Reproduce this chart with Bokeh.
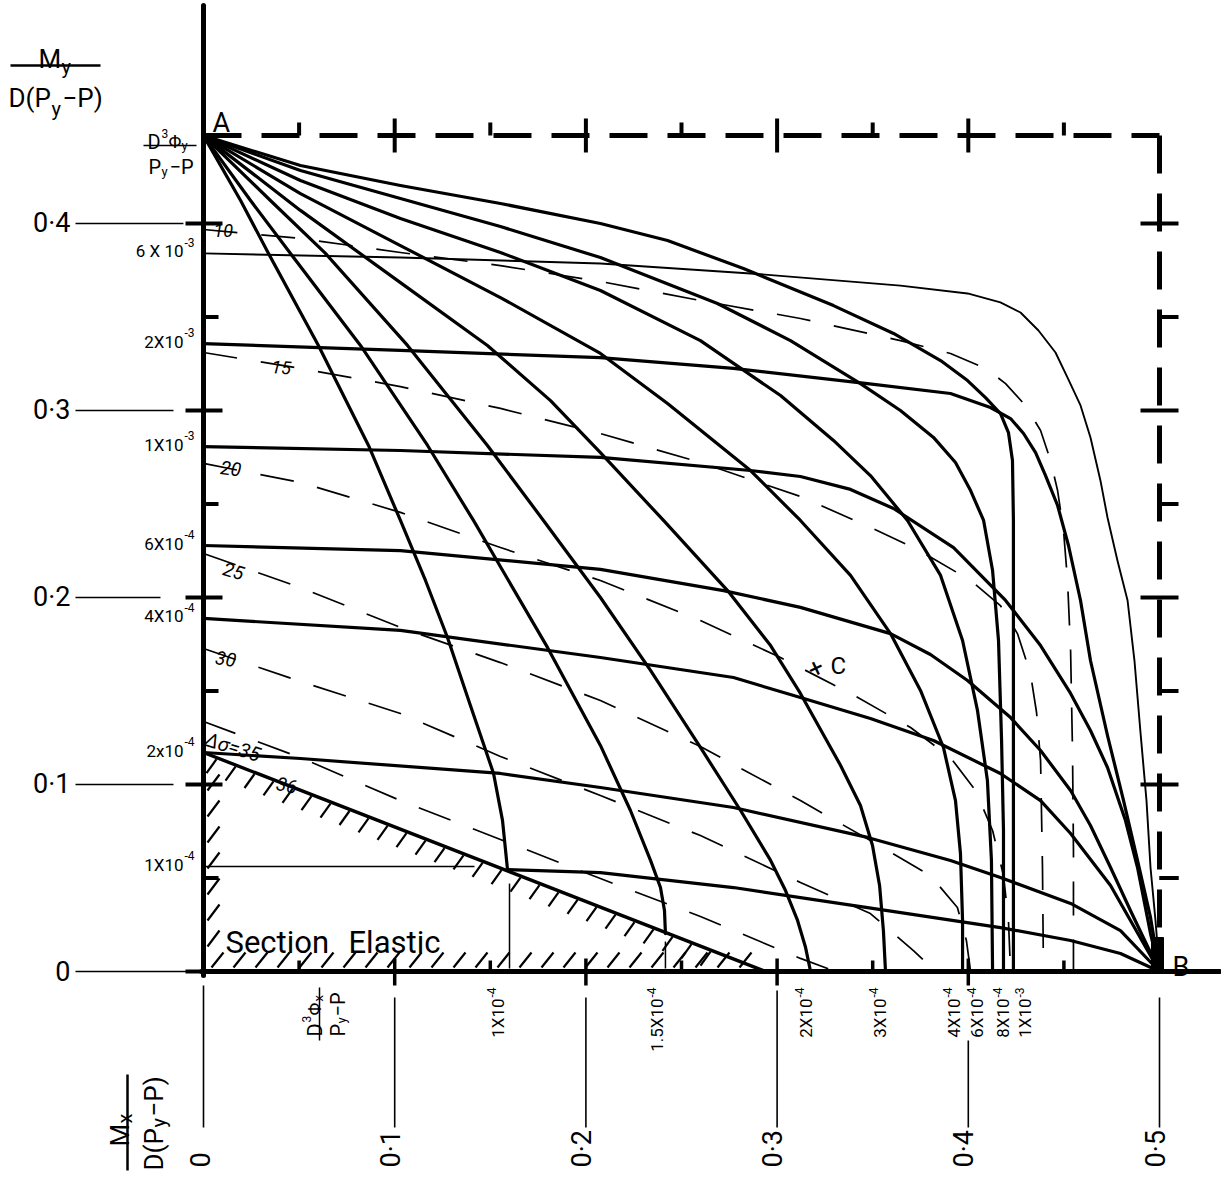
import math
from bokeh.plotting import figure
from bokeh.models import Range1d
from bokeh.core.properties import value
from bokeh.embed import file_html
from bokeh.resources import INLINE

# ------------------------------------------------------------------
# Values  (x = Mx/D(Py-P),  y = My/D(Py-P))
# ------------------------------------------------------------------
x_ticks = [0.0, 0.1, 0.2, 0.3, 0.4, 0.5]
x_tick_labels = ["0", "0·1", "0·2", "0·3", "0·4", "0·5"]
y_ticks = [0.0, 0.1, 0.2, 0.3, 0.4]
y_tick_labels = ["0", "0·1", "0·2", "0·3", "0·4"]
y_leader_end = [-0.0031, -0.0157, -0.0225, -0.0157, -0.0105]
minor_x = [0.05, 0.15, 0.25, 0.35, 0.45]
minor_y = [0.05, 0.15, 0.25, 0.35]
border_major = [0.1, 0.2, 0.3, 0.4]
border_minor = [0.05, 0.15, 0.25, 0.35, 0.45]

top_y = 0.447          # D^3 Phi_y / (Py - P)  (point A)
right_x = 0.5          # point B

# ---- curves of constant D^3 Phi_x/(Py-P): from A down to the Mx axis
phx_1e4_x = [0, 0.0194, 0.034, 0.0601, 0.0863, 0.103, 0.1161, 0.1276, 0.1396, 0.1517, 0.1564, 0.159]
phx_1e4_y = [0.447, 0.4123, 0.384, 0.3348, 0.2813, 0.2412, 0.2091, 0.1786, 0.1422, 0.1059, 0.0807, 0.0545]
phx_15e4_x = [0, 0.0246, 0.0455, 0.0821, 0.1172, 0.1412, 0.1799, 0.2076, 0.2233, 0.2338, 0.239, 0.2411, 0.2416]
phx_15e4_y = [0.447, 0.4123, 0.384, 0.3348, 0.2813, 0.2412, 0.1733, 0.1209, 0.0861, 0.0594, 0.0449, 0.0326, 0.0203]
phx_2e4_x = [0, 0.035, 0.0638, 0.1067, 0.1485, 0.1778, 0.2076, 0.2338, 0.2599, 0.2809, 0.2966, 0.3044, 0.3107, 0.3149, 0.3175]
phx_2e4_y = [0.447, 0.4123, 0.384, 0.3348, 0.2813, 0.2412, 0.2, 0.161, 0.1198, 0.0861, 0.0594, 0.0433, 0.0273, 0.0128, 0.0]
phx_3e4_x = [0, 0.0507, 0.103, 0.1485, 0.1815, 0.2076, 0.2406, 0.2741, 0.2966, 0.3122, 0.3332, 0.3436, 0.3499, 0.3536, 0.3556, 0.3567]
phx_3e4_y = [0.447, 0.407, 0.3684, 0.3348, 0.3053, 0.2775, 0.2412, 0.2037, 0.1743, 0.1487, 0.1102, 0.0888, 0.0674, 0.046, 0.0219, 0.0]
phx_4e4_x = [0, 0.0507, 0.103, 0.1553, 0.2076, 0.2427, 0.2861, 0.3122, 0.3384, 0.3593, 0.375, 0.387, 0.3933, 0.3959, 0.397, 0.397]
phx_4e4_y = [0.447, 0.416, 0.3882, 0.3604, 0.3305, 0.3037, 0.2679, 0.2412, 0.2118, 0.1807, 0.1503, 0.1198, 0.0914, 0.0631, 0.0273, 0.0]
phx_6e4_x = [0, 0.0507, 0.103, 0.1553, 0.2076, 0.2599, 0.3018, 0.3295, 0.3488, 0.3682, 0.3855, 0.397, 0.4048, 0.41, 0.4121, 0.4127]
phx_6e4_y = [0.447, 0.423, 0.4027, 0.3845, 0.3642, 0.3374, 0.308, 0.284, 0.2652, 0.2412, 0.2118, 0.177, 0.1396, 0.1021, 0.0594, 0.0]
phx_8e4_x = [0, 0.0507, 0.103, 0.1553, 0.2076, 0.2688, 0.307, 0.3436, 0.3645, 0.3818, 0.3933, 0.4012, 0.408, 0.4127, 0.4158, 0.4174, 0.4184, 0.4184]
phx_8e4_y = [0.447, 0.4283, 0.4134, 0.3984, 0.3818, 0.3572, 0.3374, 0.3144, 0.3, 0.2856, 0.2722, 0.2572, 0.2412, 0.2144, 0.177, 0.1235, 0.0754, 0.0]
phx_1e3_x = [0, 0.0507, 0.103, 0.1553, 0.2076, 0.2427, 0.2824, 0.3295, 0.3609, 0.3855, 0.3996, 0.409, 0.4168, 0.421, 0.4231, 0.4236, 0.4236]
phx_1e3_y = [0.447, 0.431, 0.4203, 0.4107, 0.4, 0.3909, 0.3759, 0.3561, 0.3412, 0.3267, 0.316, 0.3069, 0.2984, 0.2882, 0.2733, 0.2412, 0.0]
phx_mant = ["1X10", "1.5X10", "2X10", "3X10", "4X10", "6X10", "8X10", "1X10"]
phx_exp = ["-4", "-4", "-4", "-4", "-4", "-4", "-4", "-3"]
phx_label_x = [0.1538, 0.2374, 0.3149, 0.3536, 0.3923, 0.4048, 0.4184, 0.4299]

# ---- curves of constant D^3 Phi_y/(Py-P): from the My axis to B
phy_6e3_x = [0, 0.103, 0.2076, 0.2861, 0.3645, 0.3996, 0.4168, 0.4273, 0.4367, 0.4456, 0.4519, 0.4587, 0.4639, 0.4691, 0.4728, 0.478, 0.4833, 0.4869, 0.4901, 0.4932, 0.4953, 0.4979, 0.5]
phy_6e3_y = [0.384, 0.3818, 0.3786, 0.3733, 0.3668, 0.3626, 0.3578, 0.3524, 0.3428, 0.331, 0.3176, 0.3027, 0.2856, 0.2626, 0.2428, 0.2198, 0.1984, 0.1663, 0.1273, 0.0914, 0.0556, 0.0273, 0.0]
phy_2e3_x = [0, 0.103, 0.2076, 0.2772, 0.3473, 0.3907, 0.4116, 0.4221, 0.4289, 0.4352, 0.4404, 0.4467, 0.4524, 0.4587, 0.4639, 0.4728, 0.4812, 0.4885, 0.4953, 0.5]
phy_2e3_y = [0.3358, 0.3321, 0.3283, 0.3225, 0.3144, 0.3091, 0.3016, 0.2957, 0.2877, 0.2775, 0.2652, 0.2492, 0.2278, 0.1984, 0.1663, 0.1262, 0.0914, 0.0594, 0.0289, 0.0]
phy_1e3_x = [0, 0.103, 0.2076, 0.2861, 0.3122, 0.3384, 0.3609, 0.3923, 0.4195, 0.4378, 0.4535, 0.4639, 0.4728, 0.4822, 0.4885, 0.4953, 0.5]
phy_1e3_y = [0.2807, 0.2786, 0.2749, 0.2679, 0.2647, 0.2578, 0.2476, 0.2267, 0.1984, 0.1743, 0.1487, 0.1289, 0.1091, 0.0807, 0.0556, 0.0203, 0.0]
phy_6e4_x = [0, 0.103, 0.2076, 0.272, 0.3122, 0.3593, 0.3802, 0.3996, 0.4221, 0.4378, 0.4535, 0.4639, 0.4744, 0.4848, 0.5]
phy_6e4_y = [0.2278, 0.2251, 0.215, 0.2037, 0.1947, 0.1807, 0.1695, 0.1556, 0.1358, 0.1182, 0.0968, 0.0781, 0.0556, 0.0326, 0.0]
phy_4e4_x = [0, 0.103, 0.2076, 0.2772, 0.3122, 0.3488, 0.3818, 0.4168, 0.4378, 0.4535, 0.4744, 0.5]
phy_4e4_y = [0.1888, 0.1824, 0.1679, 0.1572, 0.1465, 0.1353, 0.1235, 0.1059, 0.0914, 0.0738, 0.046, 0.0]
phy_2e4_x = [0, 0.0507, 0.1553, 0.2076, 0.2772, 0.3473, 0.3907, 0.4168, 0.4535, 0.4796, 0.5]
phy_2e4_y = [0.1171, 0.1139, 0.1059, 0.0984, 0.0877, 0.0717, 0.0594, 0.0503, 0.0364, 0.0219, 0.0]
phy_1e4_x = [0.159, 0.2076, 0.2772, 0.3473, 0.4168, 0.4535, 0.4796, 0.5]
phy_1e4_y = [0.0545, 0.0529, 0.0449, 0.0342, 0.0235, 0.0166, 0.0096, 0.0]
phy_mant = ["6 X 10", "2X10", "1X10", "6X10", "4X10", "2x10", "1X10"]
phy_exp = ["-3", "-3", "-3", "-4", "-4", "-4", "-4"]
phy_label_y = [0.384, 0.3358, 0.2807, 0.2278, 0.1888, 0.1171, 0.0561]

# ---- stress contours  delta sigma  (dashed)
ds10_x = [0, 0.0507, 0.103, 0.1553, 0.2076, 0.2599, 0.3122, 0.3645, 0.3907, 0.409, 0.4195, 0.4299, 0.4378, 0.443, 0.4467, 0.4498, 0.4519, 0.4535, 0.4545, 0.455, 0.455]
ds10_y = [0.3968, 0.392, 0.3845, 0.3775, 0.369, 0.3588, 0.3492, 0.3374, 0.3305, 0.3225, 0.3144, 0.3027, 0.2893, 0.2733, 0.2572, 0.2358, 0.2091, 0.1717, 0.1182, 0.0647, 0.0]
ds15_x = [0, 0.0507, 0.103, 0.1553, 0.2076, 0.2599, 0.3122, 0.3478, 0.3745, 0.4012, 0.4168, 0.4257, 0.4325, 0.4357, 0.4378, 0.4388, 0.4393]
ds15_y = [0.331, 0.3225, 0.3128, 0.3011, 0.2877, 0.2722, 0.254, 0.238, 0.2251, 0.2091, 0.1957, 0.1807, 0.1594, 0.1385, 0.1128, 0.0556, 0.0]
ds20_x = [0, 0.0507, 0.103, 0.1553, 0.2076, 0.2599, 0.3018, 0.3384, 0.3698, 0.3907, 0.4038, 0.4127, 0.4184, 0.421, 0.4221]
ds20_y = [0.2717, 0.2615, 0.2455, 0.2267, 0.2091, 0.1877, 0.1679, 0.1487, 0.1305, 0.1144, 0.0968, 0.0754, 0.0513, 0.0273, 0.0]
ds25_x = [0, 0.0507, 0.103, 0.1553, 0.2076, 0.2599, 0.3122, 0.3488, 0.3802, 0.3943, 0.399, 0.4012]
ds25_y = [0.2235, 0.2053, 0.184, 0.1652, 0.1449, 0.1203, 0.0914, 0.07, 0.0513, 0.0342, 0.0166, 0.0]
ds30_x = [0, 0.0507, 0.103, 0.1553, 0.2076, 0.2599, 0.3122, 0.3488, 0.3713, 0.3828]
ds30_y = [0.1727, 0.1551, 0.138, 0.115, 0.0941, 0.0727, 0.0476, 0.031, 0.0112, 0.0]
ds35_x = [0, 0.0507, 0.103, 0.1553, 0.2076, 0.2599, 0.3122, 0.3305]
ds35_y = [0.1337, 0.1144, 0.0914, 0.0706, 0.0497, 0.0294, 0.007, 0.0]
elastic_x = [0.0, 0.294]          # delta sigma = 36, limit of elastic section
elastic_y = [0.1171, 0.0]

# ------------------------------------------------------------------
# Figure: frame pixels per chart unit
# ------------------------------------------------------------------
SX, SY = 1912.0, 1870.0
W, H = 1221, 1172
OX, OY = 203.0, 971.0          # origin inside the frame, pixels


def ox(n):
    return n / SX


def oy(n):
    return n / SY


def RX(px):                      # picture pixel -> chart units
    return (px - OX) / SX


def RY(py):
    return (OY - py) / SY


p = figure(width=W, height=H,
           x_range=Range1d(-OX / SX, (W - OX) / SX),
           y_range=Range1d(-(H - OY) / SY, OY / SY),
           x_axis_type=None, y_axis_type=None,
           x_axis_location=None, y_axis_location=None,
           output_backend="svg", toolbar_location=None,
           min_border=0, outline_line_color=None,
           background_fill_color="white", border_fill_color="white")

INK = "black"
FONT = value("Roboto")


def curve(xs, ys, w, dash="solid"):
    cap = "round" if dash == "solid" else "butt"
    p.line(xs, ys, line_color=INK, line_width=w, line_dash=dash,
           line_join="round", line_cap=cap)


def segs(x0, y0, x1, y1, w):
    p.segment(x0=x0, y0=y0, x1=x1, y1=y1, line_color=INK, line_width=w, line_cap="butt")


def put(s, xv, yv, size, align="left", base="alphabetic", angle=0.0, style="normal"):
    p.text(x=[xv], y=[yv], text=[s], text_font=FONT, text_font_size=f"{size}px",
           text_align=align, text_baseline=base, angle=angle,
           text_font_style=style, text_color=INK)


# ---- stress contours (dashed, thin)
for xs, ys in [(ds10_x, ds10_y), (ds15_x, ds15_y), (ds20_x, ds20_y),
               (ds25_x, ds25_y), (ds30_x, ds30_y), (ds35_x, ds35_y)]:
    curve(xs, ys, 1.7, "34 24")

# ---- Phi_y family
curve(phy_6e3_x, phy_6e3_y, 1.9)
for xs, ys in [(phy_2e3_x, phy_2e3_y), (phy_1e3_x, phy_1e3_y), (phy_6e4_x, phy_6e4_y),
               (phy_4e4_x, phy_4e4_y), (phy_2e4_x, phy_2e4_y), (phy_1e4_x, phy_1e4_y)]:
    curve(xs, ys, 3.2)

# ---- Phi_x family
for xs, ys in [(phx_1e4_x, phx_1e4_y), (phx_15e4_x, phx_15e4_y), (phx_2e4_x, phx_2e4_y),
               (phx_3e4_x, phx_3e4_y), (phx_4e4_x, phx_4e4_y), (phx_6e4_x, phx_6e4_y),
               (phx_8e4_x, phx_8e4_y), (phx_1e3_x, phx_1e3_y)]:
    curve(xs, ys, 3.2)

# thin drop lines from the first two Phi_x curve ends to the axis
segs([phx_1e4_x[-1] + ox(2), phx_15e4_x[-1]], [phx_1e4_y[-1] - oy(14), phx_15e4_y[-1] - oy(8)],
     [phx_1e4_x[-1] + ox(2), phx_15e4_x[-1]], [oy(3), oy(3)], 1.5)
# thin leader for the 1x10^-4 Phi_y value
segs([0.0], [phy_label_y[-1]], [phy_1e4_x[0] - ox(33)], [phy_label_y[-1]], 1.5)

# ---- elastic limit line and hatching
curve(elastic_x, elastic_y, 3.4)
bx0, by0 = elastic_x[0], elastic_y[0]
bx1, by1 = elastic_x[1], elastic_y[1]
hx0, hy0, hx1, hy1 = [], [], [], []
xv = ox(12)
while xv < bx1:
    yb = by0 + (by1 - by0) * (xv - bx0) / (bx1 - bx0)
    if yb > oy(18):
        hx0.append(xv - ox(9)); hy0.append(yb - oy(16))
        hx1.append(xv + ox(1)); hy1.append(yb - oy(2))
    xv += ox(19)
xv = ox(8)
while xv < bx1 - ox(10):
    hx0.append(xv); hy0.append(oy(4))
    hx1.append(xv + ox(12)); hy1.append(oy(19))
    xv += ox(22)
yv = by0 - oy(30)
while yv > oy(12):
    hx0.append(ox(4)); hy0.append(yv - oy(8))
    hx1.append(ox(16)); hy1.append(yv + oy(8))
    yv -= oy(26)
segs(hx0, hy0, hx1, hy1, 2.2)

# ---- dashed limiting frame A - corner - B
curve([0.0, right_x], [top_y, top_y], 5, "38 20")
curve([right_x, right_x], [top_y, oy(40)], 5, "38 20")
segs(border_major, [top_y - oy(17)] * 4, border_major, [top_y + oy(17)] * 4, 4)
segs(border_minor, [top_y] * 5, border_minor, [top_y + oy(13)] * 5, 4)
segs([right_x - ox(19)] * 4, border_major, [right_x + ox(19)] * 4, border_major, 4)
segs([right_x] * 4, minor_y, [right_x + ox(19)] * 4, minor_y, 4)
segs([right_x], [0.05], [right_x + ox(19)], [0.05], 4)
p.quad(left=[right_x - ox(8)], right=[right_x + ox(4)], bottom=[0.0], top=[oy(34)],
       fill_color=INK, line_color=INK)

# ---- axes
curve([0.0, 0.0], [-oy(4), (OY - 5) / SY], 5)
curve([-ox(2), (W - OX - 2) / SX], [0.0, 0.0], 5)
# My axis ticks, leaders, labels
segs([RX(185)] * 5, y_ticks, [RX(222)] * 5, y_ticks, 4)
segs([RX(75)] * 5, y_ticks, y_leader_end, y_ticks, 1.6)
segs([0.0] * 4, minor_y, [ox(15)] * 4, minor_y, 4)
for t, s in zip(y_ticks, y_tick_labels):
    put(s, RX(70), t + oy(1), 27, align="right")
# Mx axis ticks, leaders, labels
segs(x_ticks[1:5], [-oy(14)] * 4, x_ticks[1:5], [oy(13)] * 4, 3.5)
segs(minor_x, [0.0] * 5, minor_x, [oy(11)] * 5, 3.5)
lead_top = [RY(985), RY(997), RY(997), RY(990), RY(1040), RY(997)]
segs(x_ticks, lead_top, x_ticks, [RY(1127)] * 6, 1.6)
for t, s in zip(x_ticks, x_tick_labels):
    put(s, t - ox(4), RY(1167), 27, base="middle", angle=math.pi / 2)

# ---- value labels of the two curve families
for yv, m, e in zip(phy_label_y, phy_mant, phy_exp):
    put(m, RX(183), yv + oy(2), 17, align="right")
    put(e, RX(184), yv + oy(11), 12)
for xv, m, e in zip(phx_label_x, phx_mant, phx_exp):
    put(m, xv, RY(998), 17, align="right", base="middle", angle=math.pi / 2)
    put(e, xv - ox(6), RY(997), 12, align="left", base="middle", angle=math.pi / 2)

# ---- stress contour labels
put("10", RX(213), RY(230), 18, style="italic")
put("15", RX(271), RY(366), 18, style="italic", angle=-0.08)
put("20", RX(220), RY(467), 19, style="italic", angle=-0.12)
put("25", RX(223), RY(568), 19, style="italic", angle=-0.28)
put("30", RX(215), RY(657), 19, style="italic", angle=-0.15)
put("Δσ=35", RX(205), RY(738), 20, style="italic", angle=-0.3)
put("36", RX(276), RY(783), 19, style="italic", angle=-0.2)

# ---- point names and region text
put("A", RX(212), RY(122), 27)
put("B", RX(1172), RY(966), 27)
put("C", RX(830), RY(665), 24)
put("+", RX(815), RY(667), 26, align="center", base="middle", angle=0.45)
put("Section", RX(225), RY(942), 31)
put("Elastic", RX(348), RY(942), 31)

# ---- axis titles (fractions)
put("M", RX(38), RY(58), 26)
put("y", RX(61), RY(66), 20)
segs([RX(10)], [RY(65)], [RX(100)], [RY(65)], 2.5)
put("D(P", RX(8), RY(97), 26)
put("y", RX(51), RY(108), 20)
put("−P)", RX(62), RY(97), 26)

# D^3 Phi_y / (Py - P) at A
put("D", RX(147), RY(141), 20)
put("3", RX(161), RY(133), 12)
put("Φ", RX(168), RY(141), 18)
put("y", RX(181), RY(145), 13)
segs([RX(143)], [RY(145)], [RX(196)], [RY(145)], 1.5)
put("P", RX(148), RY(166), 20)
put("y", RX(161), RY(171), 13)
put("−P", RX(169), RY(166), 20)

# D^3 Phi_x / (Py - P) on the Mx axis (rotated)
R90 = math.pi / 2
put("D", RX(314), RY(1036), 20, angle=R90)
put("3", RX(306), RY(1022), 12, angle=R90)
put("Φ", RX(314), RY(1015), 18, angle=R90)
put("x", RX(318), RY(1001), 13, angle=R90)
segs([RX(319)], [RY(987)], [RX(319)], [RY(1040)], 1.5)
put("P", RX(337), RY(1036), 20, angle=R90)
put("y", RX(341), RY(1023), 13, angle=R90)
put("−P", RX(337), RY(1016), 20, angle=R90)

# Mx / D(Py - P) (rotated)
put("M", RX(119), RY(1146), 26, angle=R90)
put("x", RX(124), RY(1123), 20, angle=R90)
segs([RX(127)], [RY(1074)], [RX(127)], [RY(1170)], 2.5)
put("D(P", RX(153), RY(1170), 26, angle=R90)
put("y", RX(158), RY(1127), 20, angle=R90)
put("−P)", RX(153), RY(1116), 26, angle=R90)

open("out.html", "w").write(file_html(p, INLINE))
